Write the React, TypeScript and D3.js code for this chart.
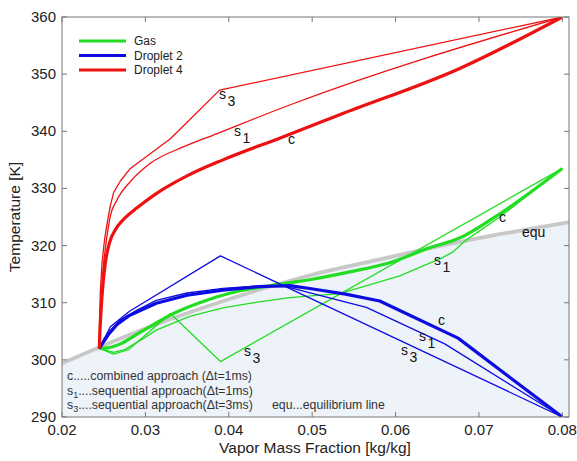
import React, { useEffect, useRef } from 'react';
import * as d3 from 'd3';

type Pt = [number, number];

const xTicks = [0.02, 0.03, 0.04, 0.05, 0.06, 0.07, 0.08];
const yTicks = [290, 300, 310, 320, 330, 340, 350, 360];

// equilibrium line (gray), area below it is shaded
const equLine: Pt[] = [
  [0.02, 299.4], [0.03, 305.5], [0.04, 310.6], [0.0465, 313.5], [0.05, 314.9],
  [0.0585, 317.7], [0.0665, 320.3], [0.07, 321.3], [0.08, 323.9], [0.0808, 324.1],
];

// Gas
const gasC: Pt[] = [
  [0.02447, 302], [0.0255, 302.1], [0.027, 302.8], [0.029, 304.5], [0.031, 306.2],
  [0.0335, 308.2], [0.0365, 310], [0.04, 311.6], [0.0425, 312.4], [0.046, 313.2],
  [0.05, 314.1], [0.0545, 315.4], [0.0593, 317.0], [0.0641, 319.6], [0.0678, 321.4],
  [0.0717, 324.8], [0.08, 333.5],
];
const gasS1: Pt[] = [
  [0.02447, 302], [0.0262, 301.3], [0.0275, 301.8], [0.0295, 303.5], [0.0313, 305.2],
  [0.0353, 307.6], [0.0393, 309.1], [0.0425, 309.9], [0.0473, 310.9], [0.0533, 311.6],
  [0.0605, 314.7], [0.0655, 317.8], [0.0669, 318.9], [0.0685, 321], [0.0725, 325],
  [0.08, 333.5],
];
const gasS3: Pt[] = [
  [0.02447, 302], [0.0262, 301.0], [0.028, 301.8], [0.033, 308.1], [0.039, 299.7],
  [0.08, 333.5],
];

// Droplet 2
const drop2C: Pt[] = [
  [0.02447, 302], [0.025, 303.2], [0.0256, 304.5], [0.0266, 306.2], [0.028, 307.7],
  [0.0313, 309.9], [0.035, 311.3], [0.0393, 312.2], [0.0435, 312.8], [0.0473, 313.0],
  [0.0501, 312.4], [0.054, 311.5], [0.0581, 310.3], [0.0675, 303.8], [0.08, 290],
];
const drop2S1: Pt[] = [
  [0.02447, 302], [0.025, 303.6], [0.0258, 305.2], [0.027, 307.0], [0.029, 308.7],
  [0.0313, 310.4], [0.035, 311.7], [0.0393, 312.5], [0.0435, 312.9], [0.0469, 312.8],
  [0.0501, 311.6], [0.0565, 309.2], [0.0659, 302.8], [0.08, 290],
];
const drop2S3: Pt[] = [
  [0.02447, 302], [0.0258, 305.8], [0.0281, 308.5], [0.039, 318.2], [0.08, 290],
];

// Droplet 4
const drop4C: Pt[] = [
  [0.02447, 302], [0.02455, 305], [0.0247, 309], [0.0249, 313], [0.0252, 317],
  [0.0257, 320.5], [0.0265, 323], [0.0274, 324.6], [0.029, 326.6], [0.0313, 329.1],
  [0.035, 332.2], [0.0393, 335.0], [0.0461, 338.8], [0.0533, 342.9], [0.0677, 351.0],
  [0.08, 360],
];
const drop4S1: Pt[] = [
  [0.02447, 302], [0.02455, 306], [0.0247, 311], [0.0249, 315.5], [0.0252, 319.5],
  [0.0258, 325.2], [0.0266, 328], [0.0282, 331.2], [0.0306, 334.4], [0.0346, 337.3],
  [0.0386, 339.6], [0.041, 341.0], [0.0473, 344.6], [0.08, 360],
];
const drop4S3: Pt[] = [
  [0.02447, 302], [0.0245, 307], [0.0246, 312], [0.0248, 317], [0.0251, 321],
  [0.0254, 323.8], [0.0258, 327], [0.0262, 329.3], [0.027, 331.3], [0.0282, 333.5],
  [0.033, 338.7], [0.0389, 347.2], [0.08, 360],
];

const GREEN = '#22dd22';
const BLUE = '#0c0ce0';
const RED = '#ee1111';

// kinked runs are drawn straight, the rest smoothed
const series = [
  { data: gasS3, color: GREEN, thick: false, smooth: false },
  { data: gasS1, color: GREEN, thick: false, smooth: false },
  { data: gasC, color: GREEN, thick: true, smooth: true },
  { data: drop2S3, color: BLUE, thick: false, smooth: false },
  { data: drop2S1, color: BLUE, thick: false, smooth: false },
  { data: drop2C, color: BLUE, thick: true, smooth: false },
  { data: drop4S3, color: RED, thick: false, smooth: false },
  { data: drop4S1, color: RED, thick: false, smooth: true },
  { data: drop4C, color: RED, thick: true, smooth: true },
];

const legendNames = ['Gas', 'Droplet 2', 'Droplet 4'];
const legendColors = [GREEN, BLUE, RED];

// curve tags: letter, subscript, anchor in data units (left/baseline)
const curveTags = [
  { t: 's', sub: '3', at: [0.03882, 345.6] },
  { t: 's', sub: '1', at: [0.04062, 339.2] },
  { t: 'c', sub: '', at: [0.0471, 337.8] },
  { t: 's', sub: '3', at: [0.04182, 300.7] },
  { t: 'c', sub: '', at: [0.06508, 306.1] },
  { t: 's', sub: '1', at: [0.06281, 303.3] },
  { t: 's', sub: '3', at: [0.06065, 300.8] },
  { t: 's', sub: '1', at: [0.0646, 316.6] },
  { t: 'c', sub: '', at: [0.0724, 324.1] },
  { t: 'equ', sub: '', at: [0.07516, 321.5] },
];

const notes = [
  { pre: 'c', sub: '', rest: '.....combined approach (Δt=1ms)' },
  { pre: 's', sub: '1', rest: '....sequential approach(Δt=1ms)' },
  { pre: 's', sub: '3', rest: '....sequential approach(Δt=3ms)' },
];
const equNote = 'equ...equilibrium line';

export default function App() {
  const ref = useRef<SVGSVGElement>(null);

  useEffect(() => {
    const W = 577;
    const H = 461;
    const m = { top: 17, right: 8, bottom: 44, left: 62 };
    const font = 'Liberation Sans, Arial, Helvetica, sans-serif';

    const svg = d3.select(ref.current);
    svg.selectAll('*').remove();
    svg.style('font-family', font);

    const x = d3.scaleLinear().domain([0.02, 0.0808]).range([m.left, W - m.right]);
    const y = d3.scaleLinear().domain([290, 360]).range([H - m.bottom, m.top]);
    const line = d3.line<Pt>().x(d => x(d[0])).y(d => y(d[1]));
    const smoothLine = d3.line<Pt>().x(d => x(d[0])).y(d => y(d[1])).curve(d3.curveMonotoneX);
    const area = d3.area<Pt>().x(d => x(d[0])).y0(y(290)).y1(d => y(d[1])).curve(d3.curveMonotoneX);

    svg.append('rect').attr('width', W).attr('height', H).attr('fill', '#fff');

    svg.append('defs').append('clipPath').attr('id', 'plotclip')
      .append('rect')
      .attr('x', m.left).attr('y', m.top)
      .attr('width', W - m.left - m.right).attr('height', H - m.top - m.bottom);

    const plot = svg.append('g').attr('clip-path', 'url(#plotclip)');

    plot.append('path').datum(equLine).attr('d', area).attr('fill', '#eef3fa');
    plot.append('path').datum(equLine).attr('d', smoothLine)
      .attr('fill', 'none').attr('stroke', '#c8c8c8').attr('stroke-width', 3.8);

    series.forEach(s => {
      plot.append('path').datum(s.data).attr('d', s.smooth ? smoothLine : line)
        .attr('fill', 'none')
        .attr('stroke', s.color)
        .attr('stroke-width', s.thick ? 3.2 : 1.3)
        .attr('stroke-linejoin', 'round');
    });

    // frame + inward ticks on all sides
    const x0 = m.left, x1 = W - m.right, y0 = m.top, y1 = H - m.bottom;
    const axis = svg.append('g').attr('stroke', '#777').attr('stroke-width', 1).attr('fill', 'none');
    axis.append('rect').attr('x', x0).attr('y', y0).attr('width', x1 - x0).attr('height', y1 - y0);
    const tk = 5;
    xTicks.forEach(v => {
      axis.append('line').attr('x1', x(v)).attr('x2', x(v)).attr('y1', y1).attr('y2', y1 - tk);
      axis.append('line').attr('x1', x(v)).attr('x2', x(v)).attr('y1', y0).attr('y2', y0 + tk);
    });
    yTicks.forEach(v => {
      axis.append('line').attr('x1', x0).attr('x2', x0 + tk).attr('y1', y(v)).attr('y2', y(v));
      axis.append('line').attr('x1', x1).attr('x2', x1 - tk).attr('y1', y(v)).attr('y2', y(v));
    });

    // tick labels
    svg.append('g').selectAll('text').data(xTicks).join('text')
      .attr('x', d => x(d)).attr('y', 435)
      .attr('text-anchor', 'middle').attr('font-size', 15).attr('fill', '#222')
      .text(d => d3.format('.2f')(d));
    svg.append('g').selectAll('text').data(yTicks).join('text')
      .attr('x', 56).attr('y', d => y(d) + 5)
      .attr('text-anchor', 'end').attr('font-size', 15).attr('fill', '#222')
      .text(d => d);

    // axis titles
    svg.append('text').attr('x', 315).attr('y', 453)
      .attr('text-anchor', 'middle').attr('font-size', 15.5).attr('fill', '#222')
      .text('Vapor Mass Fraction [kg/kg]');
    svg.append('text')
      .attr('transform', `translate(20,${(y0 + y1) / 2}) rotate(-90)`)
      .attr('text-anchor', 'middle').attr('font-size', 15.5).attr('fill', '#222')
      .text('Temperature [K]');

    // legend
    const leg = svg.append('g');
    legendNames.forEach((name, i) => {
      const ly = 41 + i * 14.5;
      leg.append('line').attr('x1', 79).attr('x2', 126).attr('y1', ly).attr('y2', ly)
        .attr('stroke', legendColors[i]).attr('stroke-width', 3);
      leg.append('text').attr('x', 134).attr('y', ly + 4.3)
        .attr('font-size', 12).attr('fill', '#222').text(name);
    });

    // curve tags
    curveTags.forEach(c => {
      const t = svg.append('text')
        .attr('x', x(c.at[0])).attr('y', y(c.at[1]))
        .attr('font-size', 14).attr('fill', '#111');
      t.append('tspan').text(c.t);
      if (c.sub) t.append('tspan').attr('dx', 1.5).attr('dy', 7).text(c.sub);
    });

    // bottom notes
    notes.forEach((n, i) => {
      const t = svg.append('text').attr('x', 67).attr('y', 380 + i * 14.5)
        .attr('font-size', 12.3).attr('fill', '#333');
      t.append('tspan').text(n.pre);
      if (n.sub) {
        t.append('tspan').attr('dy', 3).attr('font-size', 9).text(n.sub);
        t.append('tspan').attr('dy', -3).text(n.rest);
      } else {
        t.append('tspan').text(n.rest);
      }
    });
    svg.append('text').attr('x', 272).attr('y', 409)
      .attr('font-size', 12.3).attr('fill', '#333').text(equNote);
  }, []);

  return (
    <svg
      ref={ref}
      width={577}
      height={461}
      style={{ position: 'absolute', left: 0, top: 0, display: 'block' }}
    />
  );
}
